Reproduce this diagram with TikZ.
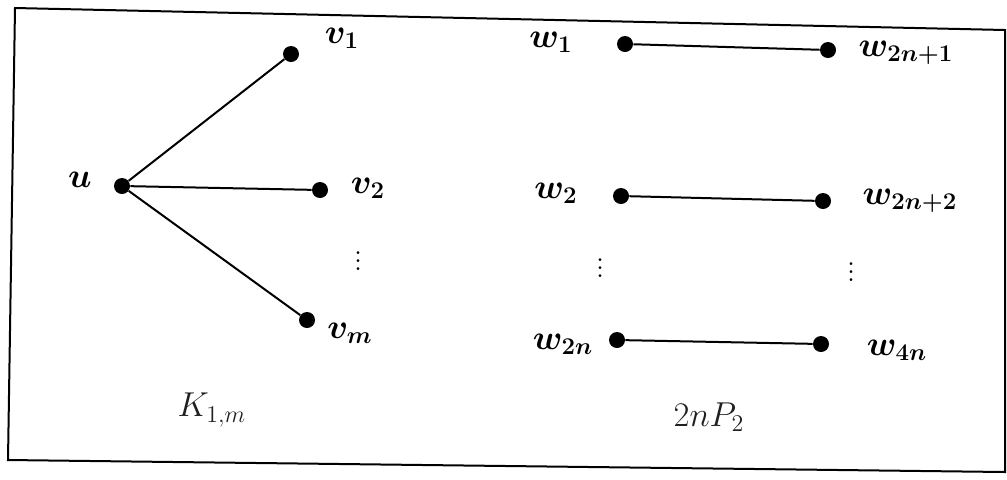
\documentclass[tikz,border=0pt]{standalone}
\usepackage{tikz}
\usetikzlibrary{positioning}
\tikzset{
  vtx/.style   = {circle, fill=black, inner sep=0pt, minimum size=8pt},
  lbl/.style   = {inner sep=1pt, font=\fontsize{17}{20}\selectfont\boldmath},
  gname/.style = {inner sep=1pt, font=\fontsize{17}{20}\selectfont, text=black!88},
  edge/.style  = {line width=1pt, draw=black},
  frame/.style = {line width=1pt, draw=black},
}

\begin{document}
\begin{tikzpicture}[x=0.5pt, y=-0.5pt]
  \useasboundingbox (0,0) rectangle (1007,479);
  % frame of the scan
  \coordinate (tl) at (15,8);
  \coordinate (tr) at (1005,30);
  \coordinate (br) at (1005,472);
  \coordinate (bl) at (8,460);
  \draw[frame] (tl) -- (tr) -- (br) -- (bl) -- cycle;

  % star K_{1,m}
  \node[vtx] (u)  at (122,186) {};
  \node[vtx] (v1) at (291,54) {};
  \node[vtx] (v2) at (320,190) {};
  \node[vtx] (vm) at (307,320) {};
  \draw[edge] (u) -- (v1);
  \draw[edge] (u) -- (v2);
  \draw[edge] (u) -- (vm);
  \node[lbl] (lu)  at (80,180) {$u$};
  \node[lbl] (lv1) at (342,38) {$v_1$};
  \node[lbl] (lv2) at (368,188) {$v_2$};
  \node[lbl] (lvd) at (358,255) {$\vdots$};
  \node[lbl] (lvm) at (350,333) {$v_m$};
  \node[gname] (lk) at (212,410) {$K_{1,m}$};

  % matching 2nP_2
  \node[vtx] (w1)  at (625,44) {};
  \node[vtx] (w1b) at (828,50) {};
  \node[vtx] (w2)  at (621,196) {};
  \node[vtx] (w2b) at (823,201) {};
  \node[vtx] (wn)  at (617,340) {};
  \node[vtx] (wnb) at (821,344) {};
  \draw[edge] (w1) -- (w1b);
  \draw[edge] (w2) -- (w2b);
  \draw[edge] (wn) -- (wnb);
  \node[lbl] (lw1)  at (551,42) {$w_1$};
  \node[lbl] (lw1b) at (906,53) {$w_{2n+1}$};
  \node[lbl] (lw2)  at (556,193) {$w_2$};
  \node[lbl] (lw2b) at (910,201) {$w_{2n+2}$};
  \node[lbl] (lwd)  at (600,262) {$\vdots$};
  \node[lbl] (lwdb) at (851,266) {$\vdots$};
  \node[lbl] (lwn)  at (563,344) {$w_{2n}$};
  \node[lbl] (lwnb) at (897,350) {$w_{4n}$};
  \node[gname] (lp) at (709,417) {$2nP_2$};
\end{tikzpicture}
\end{document}
